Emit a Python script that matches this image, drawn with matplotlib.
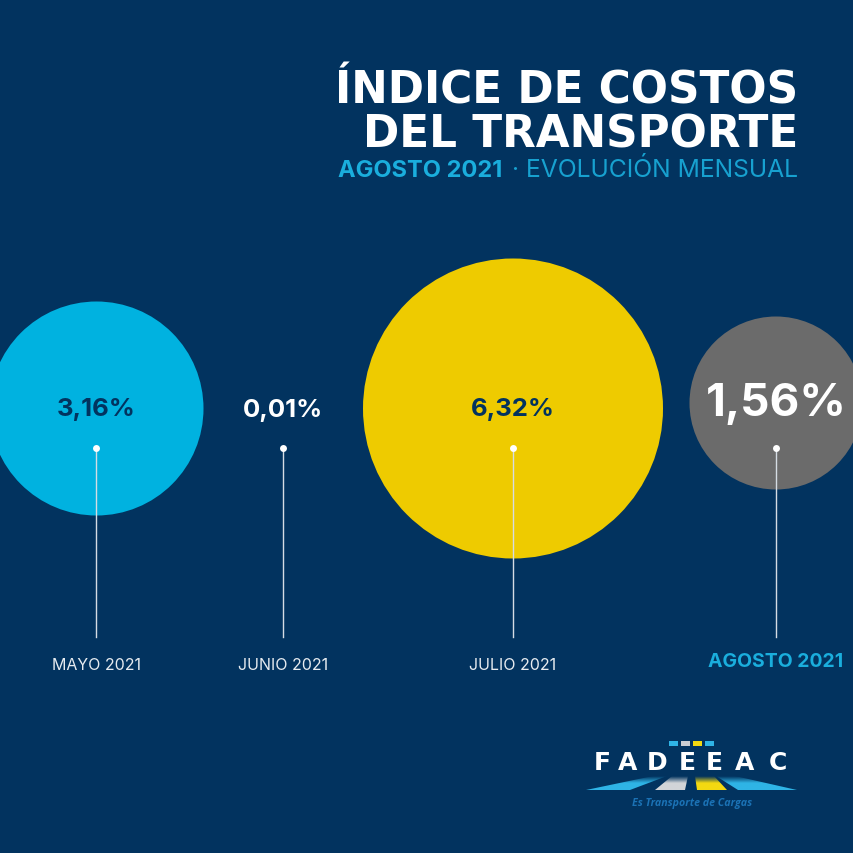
import numpy as np
import matplotlib
matplotlib.use("Agg")
import matplotlib.pyplot as plt
from matplotlib.patches import Circle, Polygon
from matplotlib.colors import LinearSegmentedColormap, to_rgb

# data
months = ["MAYO 2021", "JUNIO 2021", "JULIO 2021", "AGOSTO 2021"]
values = ["3,16%", "0,01%", "6,32%", "1,56%"]
radii = [107, 0, 150, 86.5]  # px
x_pos = [96.5, 283, 513, 776]
y_pos = [409.5, 409.5, 409.5, 404]
colors = ["#00B2E0", "#02335F", "#EECB00", "#6B6B6B"]
value_colors = ["#02335F", "#FFFFFF", "#02335F", "#FFFFFF"]
value_sizes = [18.5, 18.5, 18.5, 33]
value_y = [410, 411, 410, 404]
dot_y = [449, 449, 449, 449]
title_lines = ["ÍNDICE DE COSTOS", "DEL TRANSPORTE"]

BG = "#02335F"
BLUE = "#1AAEDD"
FONT = "Inter"

fig = plt.figure(figsize=(8.54, 8.54), dpi=100, facecolor=BG)
ax = fig.add_axes([0, 0, 1, 1])
ax.set_xlim(0, 854)
ax.set_ylim(854, 0)
ax.axis("off")

for x, y, r, c in zip(x_pos, y_pos, radii, colors):
    if r > 0:
        ax.add_patch(Circle((x, y), r, facecolor=c, edgecolor="none", zorder=1))

for x, dy in zip(x_pos, dot_y):
    ax.plot([x, x], [dy, 638], color="#D5DCE4", lw=1.0, zorder=2)
    ax.plot([x], [dy], "o", color="white", ms=5, mew=0, zorder=3)

for x, vy, v, c, s in zip(x_pos, value_y, values, value_colors, value_sizes):
    ax.text(x, vy, v, color=c, fontsize=s, fontweight="bold", family=FONT,
            ha="center", va="center", zorder=4)

for i, (x, m) in enumerate(zip(x_pos, months)):
    last = i == len(months) - 1
    ax.text(x, 662.5 if last else 666, m, color=BLUE if last else "#E6EBF0",
            fontsize=14 if last else 11.5, fontweight="bold" if last else "normal",
            family=FONT, ha="center", va="center")

# title
for y, line in zip([104, 147], title_lines):
    ax.text(798, y, line, color="white", fontsize=31.5, fontweight="bold",
            family="DejaVu Sans", ha="right", va="baseline")
ax.text(338, 177, "AGOSTO 2021", color=BLUE, fontsize=17, fontweight="bold",
        family=FONT, ha="left", va="baseline")
ax.text(798, 177, "· EVOLUCIÓN MENSUAL", color=BLUE, fontsize=17.8, alpha=0.9,
        family=FONT, ha="right", va="baseline")

# logo
for (x0, x1), c in zip([(669, 678), (681, 690), (693, 702), (705, 714)],
                       ["#2FB4E6", "#C9CDD2", "#F3D911", "#2FB4E6"]):
    ax.add_patch(Polygon([(x0, 741.5), (x1, 741.5), (x1, 747), (x0, 747)],
                         facecolor=c, edgecolor="none"))
for x, ch in zip([602, 628, 657, 687, 714, 745, 778], "FADEEAC"):
    ax.text(x, 770, ch, color="white", fontsize=18, fontweight="bold", family="DejaVu Sans",
            ha="center", va="baseline")

roads = [
    ([(586, 791), (630, 791), (667, 777), (653, 777)], "#2FB4E6"),
    ([(655, 791), (685, 791), (688, 777), (672, 777)], "#D2D5D8"),
    ([(697, 791), (727, 791), (714, 777), (695, 777)], "#F3D911"),
    ([(738, 791), (797, 791), (735, 777), (716, 777)], "#2FB4E6"),
]
for pts, c in roads:
    cmap = LinearSegmentedColormap.from_list("r", [to_rgb(BG), to_rgb(c), to_rgb(c)])
    xs = [p[0] for p in pts]
    im = ax.imshow(np.linspace(0, 1, 32).reshape(-1, 1), cmap=cmap, aspect="auto",
                   extent=(min(xs), max(xs), 791, 777), zorder=1)
    poly = Polygon(pts, transform=ax.transData, facecolor="none", edgecolor="none")
    ax.add_patch(poly)
    im.set_clip_path(poly)
ax.set_xlim(0, 854)
ax.set_ylim(854, 0)

ax.text(692, 804, "Es Transporte de Cargas", color="#1B72B5", fontsize=7.7,
        fontweight="bold", style="italic", family="Open Sans", ha="center", va="center")

fig.savefig("out.png", dpi=100, facecolor=BG)
